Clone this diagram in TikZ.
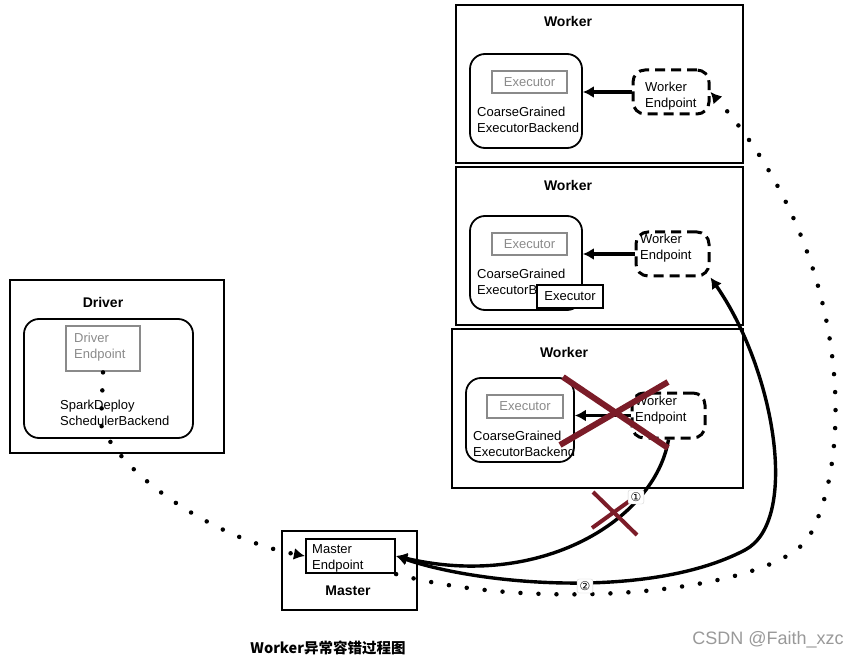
\documentclass[tikz,border=0pt]{standalone}
\usepackage{fontspec}
\setmainfont{Liberation Sans}
\newfontfamily\cjk{Noto Sans CJK SC}
\newfontfamily\symfont{DejaVu Sans}
\usetikzlibrary{arrows.meta}
\definecolor{crossred}{HTML}{7B1C28}
\definecolor{grayline}{HTML}{8A8A8A}

\begin{document}
\begin{tikzpicture}[x=1pt,y=-1pt,
  every node/.style={font=\fontsize{13}{16}\selectfont, inner sep=0pt},
  outerbox/.style={draw, line width=2.2pt},
  backend/.style={draw, line width=1.8pt, rounded corners=15pt},
  graybox/.style={draw=grayline, line width=2.8pt, text=grayline},
  endpoint/.style={draw, line width=3pt, dash pattern=on 10pt off 6pt, rounded corners=12pt},
  wtitle/.style={font=\fontsize{14}{16}\selectfont\bfseries},
  txt/.style={anchor=west, align=left},
  tip/.style={-{Latex[length=11pt,width=12pt]}},
  callarrow/.style={line width=3.4pt, tip},
  dotline/.style={line width=4.5pt, line cap=round, dash pattern=on 0pt off 18pt},
  cross/.style={draw=crossred, line width=6pt},
  steplabel/.style={draw=gray!35, fill=white, rounded corners=2pt, inner sep=2.5pt,
    font=\symfont\fontsize{12}{13}\selectfont}
]
\useasboundingbox (0,0) rectangle (859,660);

% workers
\node[outerbox, minimum width=287, minimum height=158] (w1) at (599.5,84) {};
\node[wtitle] (w1t) at (568,22) {Worker};
\node[backend, minimum width=112, minimum height=94] (w1be) at (526,101) {};
\node[graybox, minimum width=75, minimum height=22] (w1ex) at (529.5,82) {Executor};
\node[txt] (w1bet) at (477,120) {CoarseGrained\\ExecutorBackend};
\node[endpoint, minimum width=76, minimum height=44] (w1ep) at (671,92) {};
\node[txt] (w1ept) at (645,96) {Worker\\Endpoint};

\node[outerbox, minimum width=287, minimum height=158] (w2) at (599.5,246) {};
\node[wtitle] (w2t) at (568,185) {Worker};
\node[backend, minimum width=112, minimum height=94] (w2be) at (526,263) {};
\node[graybox, minimum width=75, minimum height=22] (w2ex) at (529.5,244) {Executor};
\node[txt] (w2bet) at (477,282) {CoarseGrained\\ExecutorBackend};
\node[draw, line width=1.8pt, fill=white, minimum width=66, minimum height=23] (w2ex2) at (570,296.5) {Executor};
\node[endpoint, minimum width=73, minimum height=44] (w2ep) at (672.5,254) {};
\node[txt] (w2ept) at (640,248) {Worker\\Endpoint};

\node[outerbox, minimum width=291, minimum height=159] (w3) at (597.5,408.5) {};
\node[wtitle] (w3t) at (564,352) {Worker};
\node[backend, minimum width=108, minimum height=84] (w3be) at (520,420) {};
\node[graybox, minimum width=76, minimum height=23] (w3ex) at (525,406.5) {Executor};
\node[txt] (w3bet) at (473,444) {CoarseGrained\\ExecutorBackend};
\node[endpoint, minimum width=73, minimum height=45] (w3ep) at (668.5,415.5) {};
\node[txt] (w3ept) at (635,410) {Worker\\Endpoint};

\draw[callarrow] (w1ep.west) -- (w1ep.west -| w1be.east);
\draw[callarrow] (w2ep.west) -- (w2ep.west -| w2be.east);
\draw[callarrow] (w3ep.west) -- (w3ep.west -| w3be.east);

% driver
\node[outerbox, minimum width=214, minimum height=173] (drv) at (117,366.5) {};
\node[wtitle] (drvt) at (103,302) {Driver};
\node[backend, minimum width=169, minimum height=119] (drvbe) at (108.5,378.5) {};
\node[graybox, minimum width=74, minimum height=45] (drvep) at (103,348.5) {};
\node[txt, text=grayline] (drvept) at (74,347) {Driver\\Endpoint};
\node[txt] (drvbet) at (60,413) {SparkDeploy\\SchedulerBackend};

% master
\node[outerbox, minimum width=135, minimum height=79] (m) at (349.5,570.5) {};
\node[draw, line width=2.2pt, minimum width=89, minimum height=34] (mep) at (350.5,556) {};
\node[txt] (mept) at (312,558) {Master\\Endpoint};
\node[wtitle] (mt) at (348,591) {Master};

% connections
\draw[dotline, tip] (drvep.south) -- (101,425)
  .. controls (125,480) and (220,540) .. (mep.west);
\draw[callarrow] (w3ep.south) .. controls (655,520) and (540,590) .. (mep.east);
\draw[line width=3.4pt, {Latex[length=11pt,width=12pt]}-{Latex[length=11pt,width=12pt]}]
  (mep.east) .. controls (480,585) and (650,600) .. (745,550)
  .. controls (800,521) and (775,370) .. (w2ep.south east);
\draw[dotline, tip] (mep.south east)
  .. controls (550,615) and (780,590) .. (810,535)
  .. controls (855,452) and (850,250) .. (w1ep.east);

% failure marks
\draw[cross, line width=4pt] (593,492) -- (637,535);
\draw[cross, line width=4pt] (592,528) -- (635,497);
\node[steplabel] (s1) at (636,497) {①};
\node[steplabel] (s2) at (585,586) {②};
\draw[cross] (563,377) -- (668,448);
\draw[cross] (560,445) -- (668,382);

% caption
\node[font=\cjk\fontsize{14.5}{16}\selectfont\bfseries] (cap) at (328,648) {Worker异常容错过程图};
\node[font=\fontsize{18}{20}\selectfont, text=gray!80] (mark) at (768,640) {CSDN @Faith\_xzc};
\end{tikzpicture}
\end{document}
